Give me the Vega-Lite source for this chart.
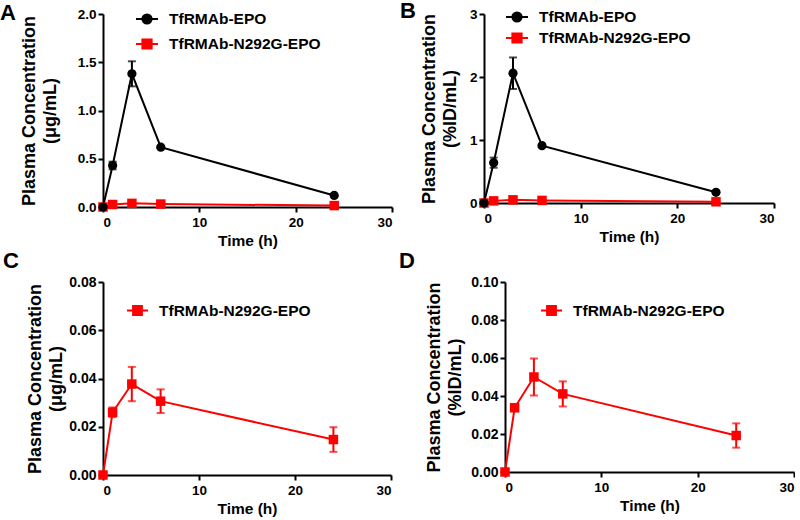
{
  "$schema": "https://vega.github.io/schema/vega-lite/v6.json",
  "padding": 0,
  "datasets": {
    "ugml": [
      {"series": "TfRMAb-EPO", "time": 0, "mean": 0, "err": 0},
      {"series": "TfRMAb-EPO", "time": 1, "mean": 0.43, "err": 0.04},
      {"series": "TfRMAb-EPO", "time": 3, "mean": 1.38, "err": 0.13},
      {"series": "TfRMAb-EPO", "time": 6, "mean": 0.62, "err": 0.01},
      {"series": "TfRMAb-EPO", "time": 24, "mean": 0.12, "err": 0.005},
      {"series": "TfRMAb-N292G-EPO", "time": 0, "mean": 0, "err": 0},
      {"series": "TfRMAb-N292G-EPO", "time": 1, "mean": 0.026, "err": 0.002},
      {"series": "TfRMAb-N292G-EPO", "time": 3, "mean": 0.0377, "err": 0.0071},
      {"series": "TfRMAb-N292G-EPO", "time": 6, "mean": 0.0306, "err": 0.0049},
      {"series": "TfRMAb-N292G-EPO", "time": 24, "mean": 0.0147, "err": 0.0051}
    ],
    "pid": [
      {"series": "TfRMAb-EPO", "time": 0, "mean": 0, "err": 0},
      {"series": "TfRMAb-EPO", "time": 1, "mean": 0.64, "err": 0.08},
      {"series": "TfRMAb-EPO", "time": 3, "mean": 2.06, "err": 0.25},
      {"series": "TfRMAb-EPO", "time": 6, "mean": 0.91, "err": 0.02},
      {"series": "TfRMAb-EPO", "time": 24, "mean": 0.17, "err": 0.01},
      {"series": "TfRMAb-N292G-EPO", "time": 0, "mean": 0, "err": 0},
      {"series": "TfRMAb-N292G-EPO", "time": 1, "mean": 0.0338, "err": 0.0015},
      {"series": "TfRMAb-N292G-EPO", "time": 3, "mean": 0.05, "err": 0.0097},
      {"series": "TfRMAb-N292G-EPO", "time": 6, "mean": 0.0411, "err": 0.0066},
      {"series": "TfRMAb-N292G-EPO", "time": 24, "mean": 0.0192, "err": 0.0064}
    ]
  },
  "spacing": 1,
  "resolve": {"scale": {"color": "independent"}},
  "vconcat": [
    {
      "spacing": 7,
      "resolve": {"scale": {"color": "independent"}},
      "hconcat": [
        {
          "width": 289, "height": 193,
          "title": {"text": "A", "dx": -103, "dy": 22},
          "data": {"name": "ugml"},
          "encoding": {
            "x": {"field": "time", "type": "quantitative", "scale": {"domain": [0, 30], "nice": false}, "axis": {"values": [0, 10, 20, 30], "title": "Time (h)"}},
            "y": {"field": "mean", "type": "quantitative", "scale": {"domain": [0, 2], "nice": false}, "axis": {"values": [0, 0.5, 1, 1.5, 2], "format": ".1f", "title": ["Plasma Concentration", "(μg/mL)"], "titlePadding": 18}},
            "color": {"field": "series", "type": "nominal", "scale": {"domain": ["TfRMAb-EPO", "TfRMAb-N292G-EPO"], "range": ["#000000", "#ff0000"]},
              "legend": {"legendX": 32, "legendY": -7, "rowPadding": 4,
                "encode": {"symbols": {"update": {
                  "shape": {"signal": "datum.value === 'TfRMAb-EPO' ? 'M-1,0H1M-0.42,0A0.42,0.42 0 1,0 0.42,0A0.42,0.42 0 1,0 -0.42,0Z' : 'M-1,0H1M-0.42,-0.42H0.42V0.42H-0.42Z'"},
                  "fill": {"signal": "datum.value === 'TfRMAb-EPO' ? '#000000' : '#ff0000'"},
                  "stroke": {"signal": "datum.value === 'TfRMAb-EPO' ? '#000000' : '#ff0000'"},
                  "strokeWidth": {"value": 2}, "size": {"value": 484}, "opacity": {"value": 1}, "fillOpacity": {"value": 1}, "strokeOpacity": {"value": 1}}}}}}
          },
          "layer": [
            {"mark": {"type": "line", "strokeWidth": 2}},
            {"mark": {"type": "errorbar", "thickness": 2, "ticks": {"size": 8}}, "encoding": {"yError": {"field": "err"}}},
            {"transform": [{"filter": "datum.series === 'TfRMAb-N292G-EPO'"}], "mark": {"type": "point", "filled": true, "opacity": 1, "size": 90, "shape": "square"}},
            {"transform": [{"filter": "datum.series === 'TfRMAb-EPO'"}], "mark": {"type": "point", "filled": true, "opacity": 1, "size": 85, "shape": "circle"}}
          ]
        },
        {
          "width": 290, "height": 189,
          "title": {"text": "B", "dx": -84, "dy": 22},
          "data": {"name": "pid"},
          "encoding": {
            "x": {"field": "time", "type": "quantitative", "scale": {"domain": [0, 30], "nice": false}, "axis": {"values": [0, 10, 20, 30], "title": "Time (h)"}},
            "y": {"field": "mean", "type": "quantitative", "scale": {"domain": [0, 3], "nice": false}, "axis": {"values": [0, 1, 2, 3], "format": "d", "title": ["Plasma Concentration", "(%ID/mL)"], "titlePadding": 10}},
            "color": {"field": "series", "type": "nominal", "scale": {"domain": ["TfRMAb-EPO", "TfRMAb-N292G-EPO"], "range": ["#000000", "#ff0000"]},
              "legend": {"legendX": 21, "legendY": -9, "rowPadding": -1,
                "encode": {"symbols": {"update": {
                  "shape": {"signal": "datum.value === 'TfRMAb-EPO' ? 'M-1,0H1M-0.42,0A0.42,0.42 0 1,0 0.42,0A0.42,0.42 0 1,0 -0.42,0Z' : 'M-1,0H1M-0.42,-0.42H0.42V0.42H-0.42Z'"},
                  "fill": {"signal": "datum.value === 'TfRMAb-EPO' ? '#000000' : '#ff0000'"},
                  "stroke": {"signal": "datum.value === 'TfRMAb-EPO' ? '#000000' : '#ff0000'"},
                  "strokeWidth": {"value": 2}, "size": {"value": 484}, "opacity": {"value": 1}, "fillOpacity": {"value": 1}, "strokeOpacity": {"value": 1}}}}}}
          },
          "layer": [
            {"mark": {"type": "line", "strokeWidth": 2}},
            {"mark": {"type": "errorbar", "thickness": 2, "ticks": {"size": 8}}, "encoding": {"yError": {"field": "err"}}},
            {"transform": [{"filter": "datum.series === 'TfRMAb-N292G-EPO'"}], "mark": {"type": "point", "filled": true, "opacity": 1, "size": 90, "shape": "square"}},
            {"transform": [{"filter": "datum.series === 'TfRMAb-EPO'"}], "mark": {"type": "point", "filled": true, "opacity": 1, "size": 85, "shape": "circle"}}
          ]
        }
      ]
    },
    {
      "spacing": 7,
      "resolve": {"scale": {"color": "independent"}},
      "hconcat": [
        {
          "width": 288, "height": 193,
          "title": {"text": "C", "dx": -100, "dy": 2},
          "data": {"name": "ugml"},
          "transform": [{"filter": "datum.series === 'TfRMAb-N292G-EPO'"}],
          "encoding": {
            "x": {"field": "time", "type": "quantitative", "scale": {"domain": [0, 30], "nice": false}, "axis": {"values": [0, 10, 20, 30], "title": "Time (h)"}},
            "y": {"field": "mean", "type": "quantitative", "scale": {"domain": [0, 0.08], "nice": false}, "axis": {"values": [0, 0.02, 0.04, 0.06, 0.08], "format": ".2f", "labelFontSize": 14, "title": ["Plasma Concentration", "(μg/mL)"], "titlePadding": 3}},
            "color": {"field": "series", "type": "nominal", "scale": {"domain": ["TfRMAb-N292G-EPO"], "range": ["#ff0000"]},
              "legend": {"legendX": 23, "legendY": 17,
                "encode": {"symbols": {"update": {
                  "shape": {"value": "M-1,0H1M-0.42,-0.42H0.42V0.42H-0.42Z"},
                  "fill": {"value": "#ff0000"}, "stroke": {"value": "#ff0000"},
                  "strokeWidth": {"value": 2}, "size": {"value": 441}, "opacity": {"value": 1}, "fillOpacity": {"value": 1}, "strokeOpacity": {"value": 1}}}}}}
          },
          "layer": [
            {"mark": {"type": "line", "strokeWidth": 2}},
            {"mark": {"type": "errorbar", "thickness": 2, "ticks": {"size": 8}}, "encoding": {"yError": {"field": "err"}}},
            {"mark": {"type": "point", "filled": true, "opacity": 1, "size": 90, "shape": "square"}}
          ]
        },
        {
          "width": 289, "height": 190,
          "title": {"text": "D", "dx": -106, "dy": 2},
          "data": {"name": "pid"},
          "transform": [{"filter": "datum.series === 'TfRMAb-N292G-EPO'"}],
          "encoding": {
            "x": {"field": "time", "type": "quantitative", "scale": {"domain": [0, 30], "nice": false}, "axis": {"values": [0, 10, 20, 30], "title": "Time (h)"}},
            "y": {"field": "mean", "type": "quantitative", "scale": {"domain": [0, 0.1], "nice": false}, "axis": {"values": [0, 0.02, 0.04, 0.06, 0.08, 0.1], "format": ".2f", "labelFontSize": 14, "title": ["Plasma Concentration", "(%ID/mL)"], "titlePadding": 6}},
            "color": {"field": "series", "type": "nominal", "scale": {"domain": ["TfRMAb-N292G-EPO"], "range": ["#ff0000"]},
              "legend": {"legendX": 35, "legendY": 17,
                "encode": {"symbols": {"update": {
                  "shape": {"value": "M-1,0H1M-0.42,-0.42H0.42V0.42H-0.42Z"},
                  "fill": {"value": "#ff0000"}, "stroke": {"value": "#ff0000"},
                  "strokeWidth": {"value": 2}, "size": {"value": 441}, "opacity": {"value": 1}, "fillOpacity": {"value": 1}, "strokeOpacity": {"value": 1}}}}}}
          },
          "layer": [
            {"mark": {"type": "line", "strokeWidth": 2}},
            {"mark": {"type": "errorbar", "thickness": 2, "ticks": {"size": 8}}, "encoding": {"yError": {"field": "err"}}},
            {"mark": {"type": "point", "filled": true, "opacity": 1, "size": 90, "shape": "square"}}
          ]
        }
      ]
    }
  ],
  "config": {
    "font": "Liberation Sans",
    "view": {"stroke": null},
    "title": {"anchor": "start", "frame": "group", "fontSize": 22, "fontWeight": "bold", "color": "#000000", "offset": 0},
    "axis": {"grid": false, "domainColor": "#000000", "domainWidth": 2, "tickColor": "#000000", "tickWidth": 2, "tickSize": 5, "labelColor": "#000000", "labelFontWeight": "bold", "labelFontSize": 13.5, "titleColor": "#000000", "titleFontWeight": "bold"},
    "axisX": {"titleFontSize": 15.5, "labelPadding": 3, "titlePadding": 5},
    "axisY": {"titleFontSize": 18, "titleLineHeight": 21, "labelPadding": 2},
    "legend": {"orient": "none", "title": null, "labelFontSize": 15.5, "labelFontWeight": "bold", "labelColor": "#000000", "labelOffset": 10, "symbolStrokeWidth": 2}
  }
}
